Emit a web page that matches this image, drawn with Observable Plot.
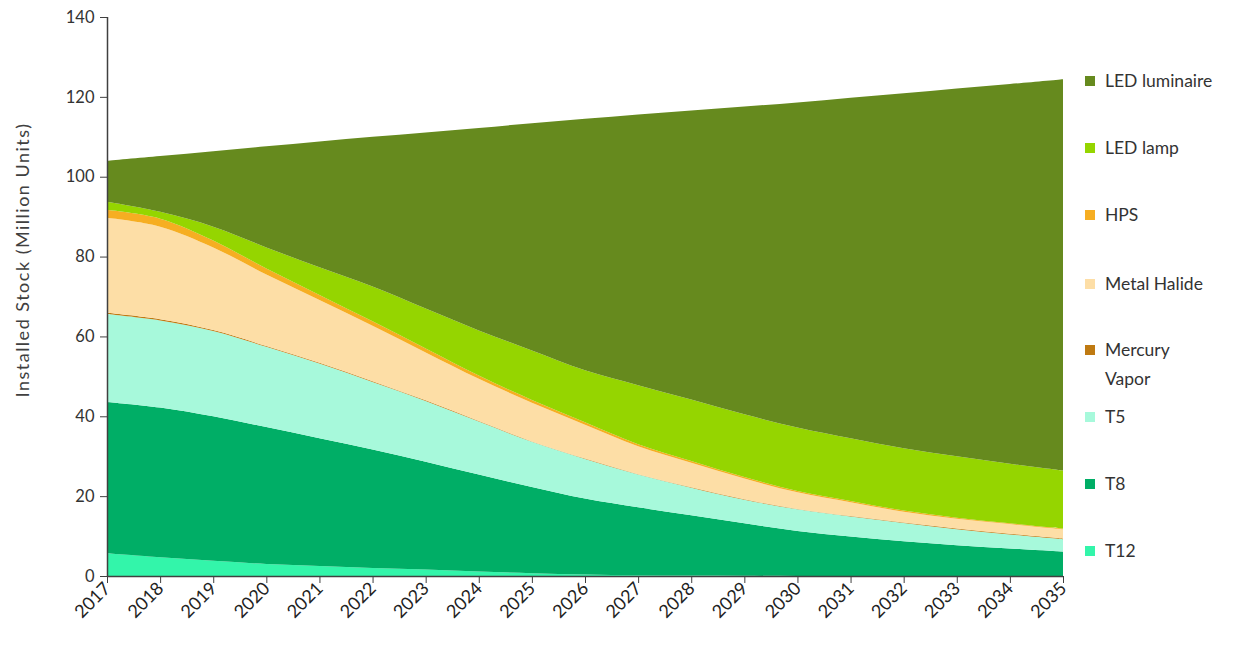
<!DOCTYPE html>
<html>
<head>
<meta charset="utf-8">
<script src="https://cdn.jsdelivr.net/npm/d3@7"></script>
<script src="https://cdn.jsdelivr.net/npm/@observablehq/plot@0.6"></script>
<style>
  body { margin: 0; background: #fff; }
  #wrap { position: relative; width: 1248px; height: 647px; font-family: Lato, "Open Sans", sans-serif; }
  .leg { position: absolute; left: 1085px; font-size: 17.5px; color: #333; line-height: 29px; }
  .leg span.sw { position: absolute; left: 0; top: 10px; width: 10px; height: 10px; }
  .leg span.tx { position: absolute; left: 20px; top: 0; white-space: nowrap; }
  #ylab { position: absolute; left: 22px; top: 260px; transform: translate(-50%, -50%) rotate(-90deg); white-space: nowrap; font-size: 18px; letter-spacing: 1.5px; color: #404040; }
</style>
</head>
<body>
<div id="wrap"><div id="ylab">Installed Stock (Million Units)</div></div>
<script>
const years = [2017,2018,2019,2020,2021,2022,2023,2024,2025,2026,2027,2028,2029,2030,2031,2032,2033,2034,2035];
const seriesNames = ["T12","T8","T5","Mercury Vapor","Metal Halide","HPS","LED lamp","LED luminaire"];
const seriesColors = ["#33F5AA","#00AE66","#A7F9DB","#BF7A12","#FDDEA6","#F6AE22","#95D500","#668A1E"];
const legendOrder = ["LED luminaire","LED lamp","HPS","Metal Halide","Mercury Vapor","T5","T8","T12"];

const t12 = [5.7,4.7,3.8,3.0,2.5,2.0,1.6,1.1,0.7,0.4,0.2,0.1,0.05,0,0,0,0,0,0];
const t8 = [37.9,37.5,36.2,34.3,32.0,29.7,27.0,24.3,21.6,19.0,17.0,15.1,13.15,11.3,9.9,8.7,7.7,6.9,6.1];
const t5 = [22.0,21.8,21.35,20.1,18.7,16.9,15.25,13.3,11.3,9.9,8.2,6.9,5.9,5.4,5.0,4.6,4.0,3.5,3.1];
const mercuryVapor = [0.3,0.3,0.25,0.2,0.2,0.2,0.15,0.1,0.1,0.1,0.1,0.1,0.1,0.1,0.1,0.1,0.2,0.2,0.2];
const metalHalide = [23.8,23.2,20.7,17.9,15.7,13.9,12.0,10.6,9.7,8.5,7.0,6.15,5.2,4.15,3.5,2.7,2.45,2.4,2.3];
const hps = [2.0,2.0,1.7,1.5,1.3,1.1,1.0,0.8,0.7,0.6,0.5,0.45,0.4,0.35,0.3,0.3,0.25,0.2,0.2];
const ledLamp = [2.0,1.7,3.5,5.3,6.9,8.7,10.0,11.3,12.4,13.0,14.8,15.4,15.7,15.9,15.7,15.6,15.4,14.9,14.5];
const ledLuminaire = [10.3,14.0,18.9,25.3,31.5,37.5,44.1,50.7,56.9,63.0,67.8,72.4,77.1,81.4,85.3,88.9,92.1,95.1,98.0];

const yTicks = [0,20,40,60,80,100,120,140];

const seriesValues = [t12, t8, t5, mercuryVapor, metalHalide, hps, ledLamp, ledLuminaire];
const rows = [];
seriesNames.forEach((name, i) => {
  years.forEach((yr, j) => rows.push({year: yr, type: name, value: seriesValues[i][j]}));
});

const chart = Plot.plot({
  width: 1248,
  height: 647,
  marginLeft: 107,
  marginRight: 185,
  marginTop: 17,
  marginBottom: 71,
  style: {fontFamily: "Lato, 'Open Sans', sans-serif", color: "#404040", background: "#fff"},
  x: {type: "linear", domain: [2017, 2035]},
  y: {domain: [0, 140]},
  color: {domain: seriesNames, range: seriesColors},
  marks: [
    Plot.areaY(rows, {x: "year", y: "value", z: "type", fill: "type", order: seriesNames, curve: "catmull-rom"}),
    Plot.ruleX([2017], {stroke: "#404040", strokeWidth: 1.5}),
    Plot.ruleY([0], {stroke: "#404040", strokeWidth: 1.5}),
    Plot.axisY({ticks: yTicks, tickSize: 7, tickPadding: 6, label: null, fontSize: 16.5, fill: "#333", stroke: "#404040"}),
    Plot.axisX({ticks: years, tickFormat: d => String(d), tickRotate: -45, tickSize: 7, tickPadding: 2, label: null, fontSize: 18, fill: "#222", stroke: "#404040"})
  ]
});

const wrap = document.getElementById("wrap");
wrap.appendChild(chart);

const legendTops = {"LED luminaire": 66, "LED lamp": 133, "HPS": 200, "Metal Halide": 269, "Mercury Vapor": 335, "T5": 402, "T8": 469, "T12": 536};
legendOrder.forEach(name => {
  const item = document.createElement("div");
  item.className = "leg";
  item.style.top = legendTops[name] + "px";
  const sw = document.createElement("span");
  sw.className = "sw";
  sw.style.background = seriesColors[seriesNames.indexOf(name)];
  const tx = document.createElement("span");
  tx.className = "tx";
  if (name === "Mercury Vapor") { tx.innerHTML = "Mercury<br>Vapor"; } else { tx.textContent = name; }
  item.appendChild(sw);
  item.appendChild(tx);
  wrap.appendChild(item);
});
</script>
</body>
</html>
